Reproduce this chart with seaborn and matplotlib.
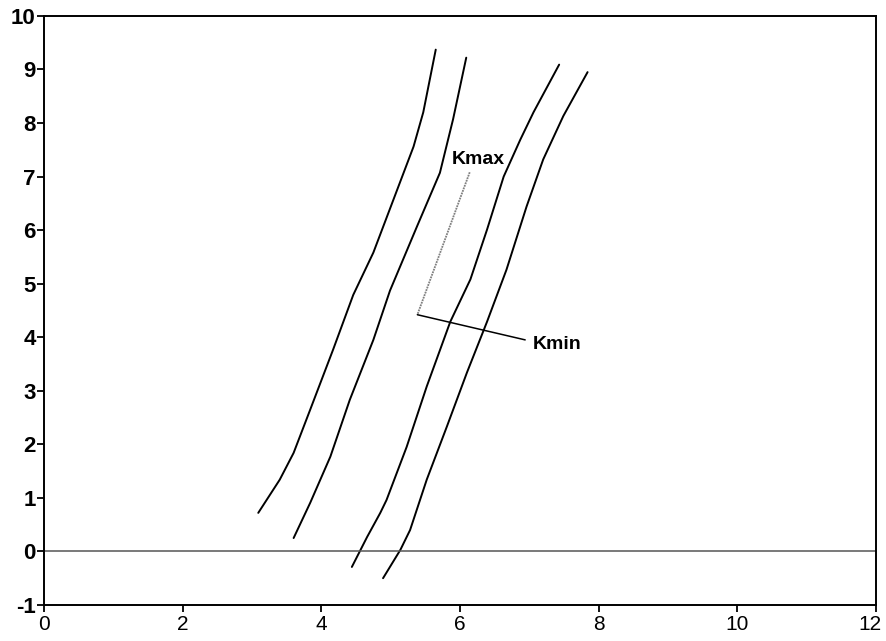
import matplotlib
matplotlib.use("Agg")
import matplotlib.pyplot as plt
import matplotlib.transforms as mtransforms
import seaborn as sns
import pandas as pd

# four curves
x1 = [3.09, 3.40, 3.60, 3.84, 4.17, 4.46, 4.75, 5.04, 5.33, 5.47, 5.65]
y1 = [0.72, 1.34, 1.84, 2.65, 3.77, 4.79, 5.58, 6.57, 7.56, 8.20, 9.37]
x2 = [3.60, 3.84, 4.13, 4.41, 4.75, 4.99, 5.38, 5.71, 5.90, 6.09]
y2 = [0.25, 0.91, 1.77, 2.83, 3.95, 4.87, 6.07, 7.07, 8.07, 9.22]
x3 = [4.44, 4.66, 4.85, 4.94, 5.23, 5.52, 5.86, 6.15, 6.39, 6.63, 6.87, 7.06, 7.43]
y3 = [-0.29, 0.27, 0.72, 0.96, 1.95, 3.08, 4.29, 5.08, 6.01, 7.00, 7.69, 8.20, 9.09]
x4 = [4.89, 5.14, 5.28, 5.52, 5.81, 6.10, 6.39, 6.67, 6.96, 7.20, 7.49, 7.84]
y4 = [-0.50, 0.03, 0.40, 1.34, 2.33, 3.34, 4.29, 5.26, 6.44, 7.32, 8.13, 8.95]

xticks = [0, 2, 4, 6, 8, 10, 12]
yticks = [-1, 0, 1, 2, 3, 4, 5, 6, 7, 8, 9, 10]

curves = [(x1, y1), (x2, y2), (x3, y3), (x4, y4)]
frames = []
for i, (xs, ys) in enumerate(curves):
    frames.append(pd.DataFrame({"x": xs, "y": ys, "curve": i}))
df = pd.concat(frames, ignore_index=True)

sns.set_style("ticks")
plt.rcParams['font.family'] = ['Liberation Sans', 'DejaVu Sans']
plt.rcParams['axes.unicode_minus'] = False

fig = plt.figure(figsize=(8.86, 6.41), dpi=100)
ax = fig.add_axes([0.0497, 0.0562, 0.939, 0.919])

sns.lineplot(data=df, x="x", y="y", units="curve", estimator=None, sort=False,
             color="black", linewidth=1.4, ax=ax)

ax.axhline(0, color="#555555", linewidth=1.1)

# annotation leaders
ax.plot([6.14, 5.385], [7.08, 4.42], color="#808080", linewidth=1.3, linestyle=(0, (1, 0.5)))
ax.plot([5.385, 6.94], [4.42, 3.95], color="black", linewidth=1.1)
ax.text(6.26, 7.31, "Kmax", fontsize=14, fontweight="bold", color="black", ha="center", va="center")
ax.text(7.05, 3.86, "Kmin", fontsize=14, fontweight="bold", color="black", ha="left", va="center")

ax.set_xlim(0, 12)
ax.set_ylim(-1, 10)
ax.set_xticks(xticks)
ax.set_yticks(yticks)
ax.set_xlabel("")
ax.set_ylabel("")
ax.tick_params(axis="both", colors="black", length=5, width=1.3)
ax.tick_params(axis="x", pad=2)
ax.tick_params(axis="y", pad=1)
for lab in ax.get_yticklabels():
    lab.set_fontsize(16)
    lab.set_fontweight("bold")
for lab in ax.get_xticklabels():
    lab.set_fontsize(15)
# keep the "12" inside the figure edge
last = ax.get_xticklabels()[-1]
last.set_transform(last.get_transform() + mtransforms.ScaledTranslation(-4 / 72, 0, fig.dpi_scale_trans))
for s in ax.spines.values():
    s.set_linewidth(1.4)
    s.set_color("black")

fig.savefig("out.png", dpi=100)
